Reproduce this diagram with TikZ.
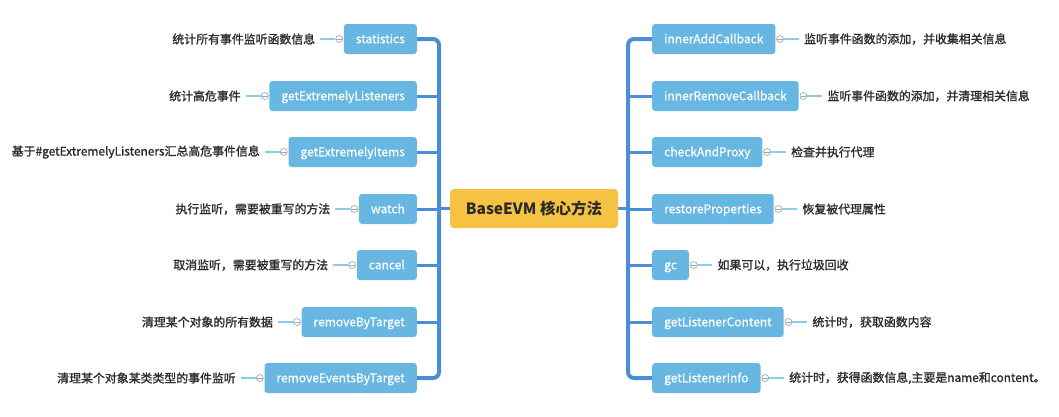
\documentclass[tikz,border=0pt]{standalone}
\usepackage{fontspec}
\setmainfont{Noto Sans CJK SC}
\newfontfamily\labfont[FakeBold=1.2]{Noto Sans CJK SC}
\newfontfamily\leaffont[FakeBold=0.4]{Noto Sans CJK SC}
\begin{document}
\definecolor{boxblue}{HTML}{68B7E2}
\definecolor{trunkblue}{HTML}{4C8ED6}
\definecolor{lineblue}{HTML}{8CCBEB}
\definecolor{rootyellow}{HTML}{F6C244}
\definecolor{labtext}{HTML}{2A2A2A}
\definecolor{circgray}{HTML}{A8A8A8}
\begin{tikzpicture}[x=1pt,y=-1pt,
  leaf/.style={fill=boxblue, rounded corners=3pt, text=white, font=\leaffont\fontsize{12}{14}\selectfont,
    minimum height=30pt, inner xsep=12pt, inner ysep=0pt, text height=11pt, text depth=2.5pt},
  rootbox/.style={fill=rootyellow, rounded corners=4pt, text=labtext,
    font=\fontsize{15.5}{18}\selectfont\bfseries, minimum width=168pt, minimum height=39pt},
  lab/.style={text=labtext, font=\labfont\fontsize{11.9}{14}\selectfont, inner xsep=5pt, inner ysep=0pt},
  circ/.style={circle, draw=circgray, fill=white, line width=0.7pt, minimum size=7pt, inner sep=0pt},
  trunk/.style={draw=trunkblue, line width=4pt, rounded corners=6pt},
  branch/.style={draw=trunkblue, line width=3pt},
  labline/.style={draw=lineblue, line width=1.2pt}
]
\useasboundingbox (0,0) rectangle (1059,416);

% root
\node[rootbox] (root) at (534,208.5) {BaseEVM 核心方法};

% left leaves
\node[leaf, anchor=east] (L1) at (417,39) {statistics};
\node[leaf, anchor=east] (L2) at (417,96) {getExtremelyListeners};
\node[leaf, anchor=east] (L3) at (417,152) {getExtremelyItems};
\node[leaf, anchor=east] (L4) at (417,209) {watch};
\node[leaf, anchor=east] (L5) at (417,265) {cancel};
\node[leaf, anchor=east] (L6) at (417,322) {removeByTarget};
\node[leaf, anchor=east] (L7) at (417,378) {removeEventsByTarget};

% right leaves
\node[leaf, anchor=west] (R1) at (652,39) {innerAddCallback};
\node[leaf, anchor=west] (R2) at (652,96) {innerRemoveCallback};
\node[leaf, anchor=west] (R3) at (652,152) {checkAndProxy};
\node[leaf, anchor=west] (R4) at (652,209) {restoreProperties};
\node[leaf, anchor=west] (R5) at (652,265) {gc};
\node[leaf, anchor=west] (R6) at (652,322) {getListenerContent};
\node[leaf, anchor=west] (R7) at (652,378) {getListenerInfo};

% trunks
\coordinate (tl) at ([xshift=22pt]L1.east);
\coordinate (tr) at ([xshift=-24pt]R1.west);
\draw[trunk] (L1.east) -- (tl) |- (L7.east);
\draw[trunk] (R1.west) -- (tr) |- (R7.west);
\foreach \i in {2,...,6} {
  \draw[branch] (L\i.east) -- (L\i.east -| tl);
  \draw[branch] (R\i.west) -- (R\i.west -| tr);
}
\draw[branch] (root.west) -- (root.west -| tl);
\draw[branch] (root.east) -- (root.east -| tr);

% left labels
\foreach \i/\t in {1/{统计所有事件监听函数信息},2/{统计高危事件},3/{基于\#getExtremelyListeners汇总高危事件信息},4/{执行监听，需要被重写的方法},5/{取消监听，需要被重写的方法},6/{清理某个对象的所有数据},7/{清理某个对象某类类型的事件监听}} {
  \node[circ] (cL\i) at ([xshift=-4.5pt]L\i.west) {};
  \node[lab, anchor=east] (tL\i) at ([xshift=-15pt]cL\i.west) {\t};
  \draw[labline] (cL\i.west) -- (tL\i.east);
  \draw[circgray, line width=0.7pt] ([xshift=1pt]cL\i.west) -- ([xshift=-1pt]cL\i.east);
}

% right labels
\foreach \i/\t in {1/{监听事件函数的添加，并收集相关信息},2/{监听事件函数的添加，并清理相关信息},3/{检查并执行代理},4/{恢复被代理属性},5/{如果可以，执行垃圾回收},6/{统计时，获取函数内容},7/{统计时，获得函数信息,主要是name和content。}} {
  \node[circ] (cR\i) at ([xshift=4.5pt]R\i.east) {};
  \node[lab, anchor=west] (tR\i) at ([xshift=15pt]cR\i.east) {\t};
  \draw[labline] (cR\i.east) -- (tR\i.west);
  \draw[circgray, line width=0.7pt] ([xshift=1pt]cR\i.west) -- ([xshift=-1pt]cR\i.east);
}
\end{tikzpicture}
\end{document}
